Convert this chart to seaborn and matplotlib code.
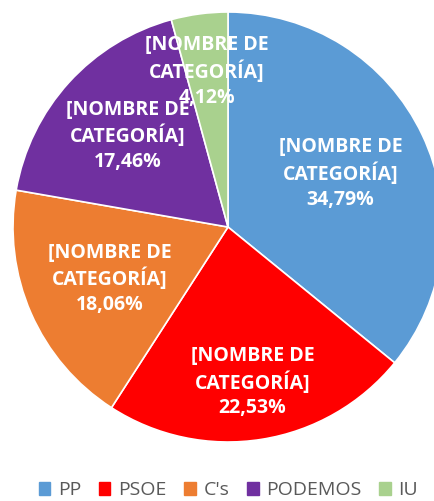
import numpy as np
import matplotlib.pyplot as plt
import seaborn as sns

partidos = ["PP", "PSOE", "C's", "PODEMOS", "IU"]
porcentajes = [34.79, 22.53, 18.06, 17.46, 4.12]
colores = ["#5B9BD5", "#FF0000", "#ED7D31", "#7030A0", "#A9D18E"]
etiqueta = "[NOMBRE DE\nCATEGORÍA]"
# distancia radial de cada etiqueta (fraccion del radio)
dist_etiquetas = [0.58, 0.73, 0.60, 0.63, 0.73]

sns.set_theme(style="white")
plt.rcParams['font.family'] = ['Open Sans', 'DejaVu Sans']

fig = plt.figure(figsize=(4.35, 5.01), dpi=100)
ax = fig.add_axes([13 / 435, 59 / 501, 430 / 435, 430 / 501])

wedges, _ = ax.pie(
    porcentajes,
    colors=colores,
    startangle=90,
    counterclock=False,
    radius=1,
    wedgeprops=dict(edgecolor="white", linewidth=1.2),
)
ax.set_xlim(-1, 1)
ax.set_ylim(-1, 1)
ax.set_aspect("equal")
ax.axis("off")

for w, p, d in zip(wedges, porcentajes, dist_etiquetas):
    ang = np.deg2rad((w.theta1 + w.theta2) / 2)
    txt = f"{etiqueta}\n{p:.2f}%".replace(".", ",")
    ax.text(d * np.cos(ang), d * np.sin(ang), txt, ha="center", va="center",
            color="white", fontsize=14, fontweight="bold", linespacing=1.3)

handles = [plt.Rectangle((0, 0), 1, 1, color=c) for c in colores]
leg = fig.legend(handles, partidos, loc="center", bbox_to_anchor=(0.525, 0.021),
                 ncol=5, frameon=False, fontsize=14, handlelength=0.6,
                 handleheight=0.6, handletextpad=0.4, columnspacing=0.9)
for t in leg.get_texts():
    t.set_color("#595959")

fig.savefig("out.png", dpi=100)
